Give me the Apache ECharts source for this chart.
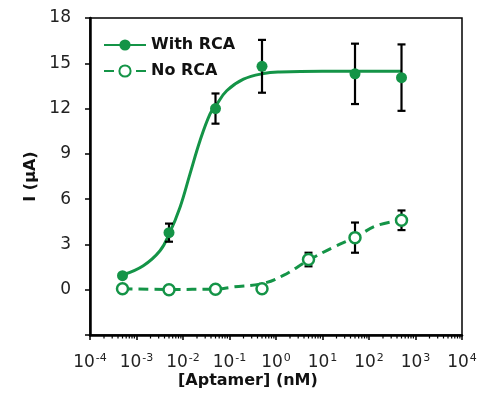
<!DOCTYPE html>
<html><head><meta charset="utf-8">
<script src="https://cdn.jsdelivr.net/npm/echarts@6/dist/echarts.min.js"></script>
<style>html,body{margin:0;padding:0;background:#fff}#c{width:486px;height:399px}</style>
</head><body><div id="c"></div>
<script>
// concentrations (nM)
const concRCA = [5e-4, 5e-3, 5e-2, 5e-1, 50, 500];
const valRCA = [0.93, 3.78, 12.0, 14.8, 14.3, 14.05];
const errRCA = [0.1, 0.6, 1.0, 1.75, 2.0, 2.2];
const concNo = [5e-4, 5e-3, 5e-2, 5e-1, 5, 50, 500];
const valNo = [0.07, 0.0, 0.03, 0.07, 2.0, 3.45, 4.6];
const errNo = [0.05, 0.05, 0.05, 0.05, 0.45, 1.0, 0.65];
// fitted curve
const fitRCAx = [5.2e-4, 1.4e-3, 3.2e-3, 5.1e-3, 8.6e-3, 0.0141, 0.0232, 0.038, 0.051, 0.087, 0.2, 0.54, 1.22, 10, 100, 500];
const fitRCAy = [0.99, 1.59, 2.58, 3.73, 5.45, 7.66, 9.87, 11.64, 12.19, 13.18, 13.95, 14.32, 14.42, 14.47, 14.47, 14.47];
const fitNox = [5e-4, 5e-3, 0.05, 0.12, 0.5, 1.4, 5, 17, 50, 148, 500];
const fitNoy = [0.07, 0.02, 0.04, 0.18, 0.4, 0.93, 1.95, 2.81, 3.47, 4.25, 4.6];
const yTicks = [-3, 0, 3, 6, 9, 12, 15, 18];
const xMin = 1e-4, xMax = 1e4;

const green = '#149447';
const FONT = 'DejaVu Sans';
const minorTicks = [];
for (let k = -4; k < 4; k++) for (let m = 2; m <= 9; m++) minorTicks.push([m * Math.pow(10, k), -3]);

const chart = echarts.init(document.getElementById('c'), null, {renderer: 'canvas'});
chart.setOption({
  animation: false,
  grid: {left: 90, top: 18, right: 24, bottom: 64, show: true, borderColor: '#000', borderWidth: 1.5, backgroundColor: 'transparent'},
  legend: {
    left: 98, top: 30, orient: 'vertical', itemWidth: 42, itemHeight: 14, itemGap: 6,
    data: ['With RCA', 'No RCA'],
    textStyle: {fontFamily: FONT, fontWeight: 'bold', fontSize: 16, color: '#111', lineHeight: 20}
  },
  xAxis: {
    type: 'log', logBase: 10, min: xMin, max: xMax, interval: 1,
    axisLine: {onZero: false, lineStyle: {color: '#000', width: 2.5}},
    axisTick: {show: true, inside: false, length: 5, lineStyle: {color: '#000', width: 1.5}},
    splitLine: {show: false},
    axisLabel: {
      margin: 18, color: '#222',
      formatter: v => '{b|10}{s|' + Math.round(Math.log10(v)) + '}',
      rich: {
        b: {fontFamily: FONT, fontSize: 17, color: '#222', lineHeight: 20},
        s: {fontFamily: FONT, fontSize: 11, color: '#222', verticalAlign: 'top', lineHeight: 20, padding: [0, 0, 6, 1]}
      }
    }
  },
  yAxis: {
    type: 'value', min: -3, max: 18, interval: 3,
    axisLine: {show: true, onZero: false, lineStyle: {color: '#000', width: 2.5}},
    axisTick: {show: true, length: 5, lineStyle: {color: '#000', width: 1.5}},
    splitLine: {show: false},
    name: 'I (\u03bcA)', nameLocation: 'middle', nameGap: 50, nameRotate: 90,
    nameTextStyle: {fontFamily: FONT, fontWeight: 'bold', fontSize: 16, color: '#111'},
    axisLabel: {margin: 19, fontFamily: FONT, fontSize: 17, color: '#222', formatter: v => v === -3 ? '' : String(v)}
  },
  graphic: [{
    type: 'text', left: 178, top: 373,
    style: {text: '[Aptamer] (nM)', fontFamily: FONT, fontWeight: 'bold', fontSize: 16, fill: '#111'}
  }],
  series: [
    {
      type: 'custom', name: 'minor', silent: true, clip: false, data: minorTicks,
      renderItem: (p, api) => {
        const pt = api.coord([api.value(0), api.value(1)]);
        return {type: 'line', shape: {x1: pt[0], y1: pt[1], x2: pt[0], y2: pt[1] + 3.5}, style: {stroke: '#000', lineWidth: 1.2}};
      }
    },
    {
      type: 'line', name: 'With RCA', data: fitRCAx.map((x, i) => [x, fitRCAy[i]]),
      smooth: 0.4, showSymbol: false, symbol: 'circle', symbolSize: 10,
      itemStyle: {color: green}, lineStyle: {color: green, width: 3}, z: 2
    },
    {
      type: 'line', name: 'No RCA', data: fitNox.map((x, i) => [x, fitNoy[i]]),
      smooth: 0.4, showSymbol: false, symbol: 'emptyCircle', symbolSize: 10,
      itemStyle: {color: green, borderColor: green, borderWidth: 2}, lineStyle: {color: green, width: 3, type: [10, 6]}, z: 2
    },
    {
      type: 'custom', name: 'errRCA', z: 3, clip: false,
      data: concRCA.map((x, i) => [x, valRCA[i] - errRCA[i], valRCA[i] + errRCA[i]]),
      renderItem: (p, api) => errBar(api)
    },
    {
      type: 'custom', name: 'errNo', z: 3, clip: false,
      data: concNo.map((x, i) => [x, valNo[i] - errNo[i], valNo[i] + errNo[i]]),
      renderItem: (p, api) => errBar(api)
    },
    {
      type: 'scatter', name: 'ptsRCA', z: 4, symbol: 'circle', symbolSize: 11,
      data: concRCA.map((x, i) => [x, valRCA[i]]),
      itemStyle: {color: green, opacity: 1}
    },
    {
      type: 'scatter', name: 'ptsNo', z: 4, symbol: 'circle', symbolSize: 11,
      data: concNo.map((x, i) => [x, valNo[i]]),
      itemStyle: {color: '#fff', borderColor: green, borderWidth: 2.5, opacity: 1}
    }
  ]
});
function errBar(api) {
  const x = api.value(0);
  const lo = api.coord([x, api.value(1)]);
  const hi = api.coord([x, api.value(2)]);
  const w = 4;
  const st = {stroke: '#000', lineWidth: 2.2};
  return {type: 'group', children: [
    {type: 'line', shape: {x1: lo[0], y1: lo[1], x2: hi[0], y2: hi[1]}, style: st},
    {type: 'line', shape: {x1: lo[0] - w, y1: lo[1], x2: lo[0] + w, y2: lo[1]}, style: st},
    {type: 'line', shape: {x1: hi[0] - w, y1: hi[1], x2: hi[0] + w, y2: hi[1]}, style: st}
  ]};
}
</script></body></html>
